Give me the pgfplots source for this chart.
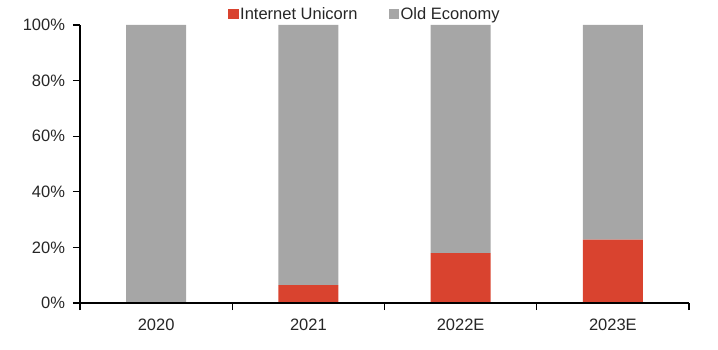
\documentclass[border=0pt]{standalone}
\usepackage{pgfplots}
\pgfplotsset{compat=1.18}
\usepackage{fontspec}
\setmainfont{Liberation Sans}
\usetikzlibrary{calc}
\definecolor{uni}{HTML}{D9432F}
\definecolor{old}{HTML}{A6A6A6}
\definecolor{txt}{HTML}{262626}
\begin{document}
\begin{tikzpicture}
\begin{axis}[name=ax, scale only axis, width=609bp, height=278bp,
 ybar stacked, bar width=0.395,
 xmin=-0.5, xmax=3.5, ymin=0, ymax=100,
 axis x line=bottom, axis y line=left,
 axis line style={-, line width=1.2bp, black},
 axis on top=true,
 xtick={0,1,2,3}, xticklabels={2020,2021,2022E,2023E},
 xtick style={draw=none},
 extra x ticks={-0.5,0.5,1.5,2.5,3.5}, extra x tick labels={},
 extra x tick style={xtick style={draw=black}},
 ytick={0,20,...,100}, yticklabel={\pgfmathprintnumber{\tick}\%},
 tick align=outside, major tick length=7bp,
 tick style={line width=1.2bp, black},
 /pgf/number format/assume math mode=true,
 tick label style={font=\fontsize{16.5bp}{19bp}\selectfont, text=txt},
 xticklabel style={yshift=-5bp},
 yticklabel style={xshift=-4.5bp},
 legend style={at={(0.243,1.04)}, anchor=west, draw=none, fill=none, inner sep=0pt,
   font=\fontsize{16.5bp}{19bp}\selectfont, text=txt,
   nodes={inner sep=1.5bp},
   /tikz/every even column/.append style={column sep=29.5bp}},
 legend columns=2,
 legend cell align=left,
 legend image code/.code={\fill[#1] (0bp,-5bp) rectangle (10.5bp,5bp);},
]
\addplot[fill=uni, draw=none] coordinates {(0,0) (1,6.4) (2,17.9) (3,22.8)};
\addlegendentry{Internet Unicorn}
\addplot[fill=old, draw=none] coordinates {(0,100) (1,93.6) (2,82.1) (3,77.2)};
\addlegendentry{Old Economy}
\end{axis}
\pgfresetboundingbox
\path[use as bounding box] ($(ax.south west)+(-80bp,-47bp)$) rectangle ($(ax.north east)+(29bp,25bp)$);
\end{tikzpicture}
\end{document}
